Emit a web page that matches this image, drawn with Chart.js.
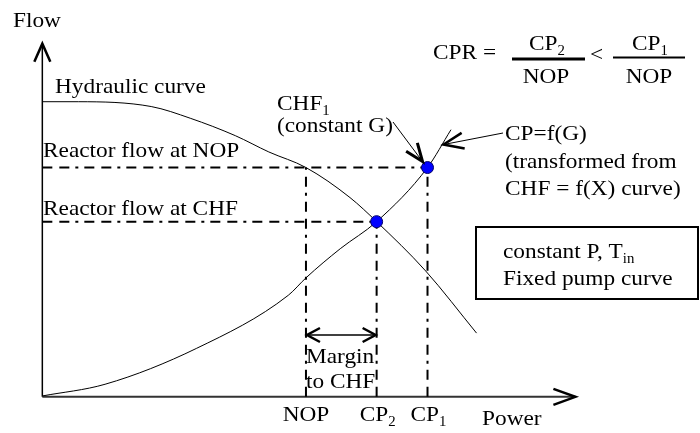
<!DOCTYPE html>
<html>
<head>
<meta charset="utf-8">
<script src="https://cdn.jsdelivr.net/npm/chart.js@4/dist/chart.umd.min.js"></script>
<style>
  body { margin: 0; background: #fff; }
  #wrap { width: 700px; height: 433px; }
</style>
</head>
<body>
<div id="wrap"><canvas id="chart" width="700" height="433"></canvas></div>
<script>
// power normalised so NOP = 1, flow normalised so reactor flow at NOP = 1
const powerTicks = ["NOP", "CP_{2}", "CP_{1}"];
const powerValues = [1.0, 1.268, 1.461];
const flowLabels = ["Reactor flow at NOP", "Reactor flow at CHF"];
const flowValues = [1.0, 0.764];

// hydraulic (pump) curve
const hydraulicPower = [0, 0.138, 0.413, 0.561, 0.732, 0.859, 1.0, 1.167, 1.268, 1.454, 1.647];
const hydraulicFlow = [1.287, 1.287, 1.266, 1.215, 1.139, 1.068, 1.0, 0.869, 0.764, 0.549, 0.278];

// CP = f(G) curve
const cpPower = [0, 0.238, 0.584, 0.933, 1.0, 1.13, 1.268, 1.461, 1.55];
const cpFlow = [0.004, 0.055, 0.211, 0.443, 0.519, 0.646, 0.764, 1.0, 1.165];

// visible axis extents (the arrows)
const powerAxisEnd = 2.022;
const flowAxisEnd = 1.54;

const FONT = '"Liberation Serif", "Times New Roman", serif';
const SX = 1.06; // source text is a touch wider than Times

function toPoints(xs, ys) {
  return xs.map((x, i) => ({ x: x, y: ys[i] }));
}

// text with _{sub} subscripts
function drawText(ctx, str, x, y, align, size) {
  size = size || 22;
  const parts = [];
  const re = /_\{([^}]*)\}/g;
  let last = 0, m;
  while ((m = re.exec(str))) {
    if (m.index > last) parts.push({ t: str.slice(last, m.index), sub: false });
    parts.push({ t: m[1], sub: true });
    last = re.lastIndex;
  }
  if (last < str.length) parts.push({ t: str.slice(last), sub: false });

  let w = 0;
  parts.forEach((p) => {
    ctx.font = (p.sub ? Math.round(size * 0.64) : size) + "px " + FONT;
    p.w = ctx.measureText(p.t).width;
    w += p.w;
  });
  let x0 = x;
  if (align === "center") x0 = x - (w * SX) / 2;
  ctx.save();
  ctx.translate(x0, y);
  ctx.scale(SX, 1);
  ctx.fillStyle = "#000";
  ctx.textBaseline = "alphabetic";
  let cx = 0;
  parts.forEach((p) => {
    ctx.font = (p.sub ? Math.round(size * 0.64) : size) + "px " + FONT;
    ctx.fillText(p.t, cx, p.sub ? 5 : 0);
    cx += p.w;
  });
  ctx.restore();
}

function arrowHead(ctx, tx, ty, fx, fy, len, spread) {
  const dx = tx - fx, dy = ty - fy;
  const d = Math.hypot(dx, dy);
  const ux = dx / d, uy = dy / d;
  const bx = tx - ux * len, by = ty - uy * len;
  ctx.beginPath();
  ctx.moveTo(bx - uy * spread, by + ux * spread);
  ctx.lineTo(tx, ty);
  ctx.lineTo(bx + uy * spread, by - ux * spread);
  ctx.stroke();
}

function line(ctx, x1, y1, x2, y2) {
  ctx.beginPath();
  ctx.moveTo(x1, y1);
  ctx.lineTo(x2, y2);
  ctx.stroke();
}

const axesPlugin = {
  id: "axesArrows",
  beforeDatasetsDraw(chart) {
    const ctx = chart.ctx;
    const sx = chart.scales.x, sy = chart.scales.y;
    const ox = sx.getPixelForValue(0), oy = sy.getPixelForValue(0);
    const xEnd = sx.getPixelForValue(powerAxisEnd);
    const yEnd = sy.getPixelForValue(flowAxisEnd);
    ctx.save();
    ctx.strokeStyle = "#000";
    ctx.lineCap = "butt";
    ctx.lineWidth = 1.5;
    line(ctx, ox, oy, ox, yEnd);
    ctx.strokeStyle = "#333";
    ctx.lineWidth = 2;
    line(ctx, ox, oy, xEnd, oy);
    ctx.strokeStyle = "#000";
    ctx.lineWidth = 2.5;
    arrowHead(ctx, ox, yEnd, ox, yEnd + 10, 18, 8);
    arrowHead(ctx, xEnd, oy, xEnd - 10, oy, 22, 8);
    ctx.restore();
  },
};

const notesPlugin = {
  id: "notes",
  afterDatasetsDraw(chart) {
    const ctx = chart.ctx;
    const sx = chart.scales.x, sy = chart.scales.y;
    const oy = sy.getPixelForValue(0);

    // axis titles
    drawText(ctx, "Flow", 13, 27);
    drawText(ctx, "Power", 482, 425);

    // tick labels under the power axis
    powerTicks.forEach((t, i) => {
      drawText(ctx, t, sx.getPixelForValue(powerValues[i]) + (i ? 1 : 0), oy + 24, "center");
    });

    // flow line labels
    drawText(ctx, flowLabels[0], 43, sy.getPixelForValue(flowValues[0]) - 11);
    drawText(ctx, flowLabels[1], 43, sy.getPixelForValue(flowValues[1]) - 7);
    drawText(ctx, "Hydraulic curve", 55, 93);

    // CHF1 callout
    const p1x = sx.getPixelForValue(powerValues[2]);
    const p1y = sy.getPixelForValue(flowValues[0]);
    drawText(ctx, "CHF_{1}", 277, 110);
    drawText(ctx, "(constant G)", 277, 132);
    ctx.save();
    ctx.strokeStyle = "#000";
    ctx.lineWidth = 1;
    line(ctx, 393, 122, p1x - 5, p1y - 6);
    ctx.lineWidth = 3;
    arrowHead(ctx, p1x - 5, p1y - 6, 393, 122, 18, 7);

    // CP=f(G) callout
    ctx.lineWidth = 1;
    line(ctx, 503, 133, p1x + 16, p1y - 23);
    ctx.lineWidth = 2.5;
    arrowHead(ctx, p1x + 16, p1y - 23, 503, 133, 20, 8);
    ctx.restore();
    drawText(ctx, "CP=f(G)", 505, 140);
    drawText(ctx, "(transformed from", 505, 168);
    drawText(ctx, "CHF = f(X) curve)", 505, 195);

    // margin to CHF
    const nx = sx.getPixelForValue(powerValues[0]) + 1;
    const c2x = sx.getPixelForValue(powerValues[1]) - 1;
    ctx.save();
    ctx.strokeStyle = "#000";
    ctx.lineWidth = 1.5;
    line(ctx, nx, 335, c2x, 335);
    ctx.lineWidth = 2.5;
    arrowHead(ctx, nx, 335, nx + 10, 335, 13, 7);
    arrowHead(ctx, c2x, 335, c2x - 10, 335, 13, 7);
    ctx.restore();
    drawText(ctx, "Margin", 306, 363);
    drawText(ctx, "to CHF", 306, 388);

    // conditions box
    ctx.save();
    ctx.strokeStyle = "#000";
    ctx.lineWidth = 2;
    ctx.strokeRect(476, 227, 222, 72);
    ctx.restore();
    drawText(ctx, "constant P, T_{in}", 503, 258);
    drawText(ctx, "Fixed pump curve", 503, 285);

    // CPR formula
    drawText(ctx, "CPR =", 433, 59);
    drawText(ctx, "CP_{2}", 547, 50, "center");
    drawText(ctx, "NOP", 546, 83, "center");
    drawText(ctx, "<", 590, 61);
    drawText(ctx, "CP_{1}", 650, 50, "center");
    drawText(ctx, "NOP", 649, 83, "center");
    ctx.save();
    ctx.strokeStyle = "#000";
    ctx.lineWidth = 3;
    line(ctx, 512, 59, 585, 59);
    ctx.lineWidth = 2;
    line(ctx, 613, 57.5, 685, 57.5);
    ctx.restore();
  },
};

const dashDot = [10, 7, 10, 6, 3, 6];

function refLine(x1, y1, x2, y2) {
  return {
    data: [{ x: x1, y: y1 }, { x: x2, y: y2 }],
    showLine: true,
    borderColor: "#000",
    borderWidth: 2,
    borderDash: dashDot,
    pointRadius: 0,
  };
}

new Chart(document.querySelector("#chart"), {
  type: "scatter",
  data: {
    datasets: [
      {
        data: toPoints([powerValues[1], powerValues[2]], [flowValues[1], flowValues[0]]),
        backgroundColor: "#0000ff",
        borderColor: "#00006a",
        borderWidth: 1,
        pointRadius: 6,
      },
      {
        data: toPoints(hydraulicPower, hydraulicFlow),
        showLine: true,
        borderColor: "#000",
        borderWidth: 1,
        pointRadius: 0,
        cubicInterpolationMode: "monotone",
      },
      {
        data: toPoints(cpPower, cpFlow),
        showLine: true,
        borderColor: "#000",
        borderWidth: 1,
        pointRadius: 0,
        cubicInterpolationMode: "monotone",
      },
      refLine(0, flowValues[0], powerValues[2], flowValues[0]),
      refLine(0, flowValues[1], powerValues[1], flowValues[1]),
      refLine(powerValues[0], 0, powerValues[0], flowValues[0]),
      refLine(powerValues[1], 0, powerValues[1], flowValues[1]),
      refLine(powerValues[2], 0, powerValues[2], flowValues[0]),
    ],
  },
  options: {
    responsive: false,
    animation: false,
    layout: { padding: 0 },
    plugins: { legend: { display: false }, tooltip: { enabled: false } },
    scales: {
      x: { type: "linear", min: -0.134, max: 2.468, display: false },
      y: { type: "linear", min: -0.127, max: 1.7, display: false },
    },
  },
  plugins: [axesPlugin, notesPlugin],
});
</script>
</body>
</html>
